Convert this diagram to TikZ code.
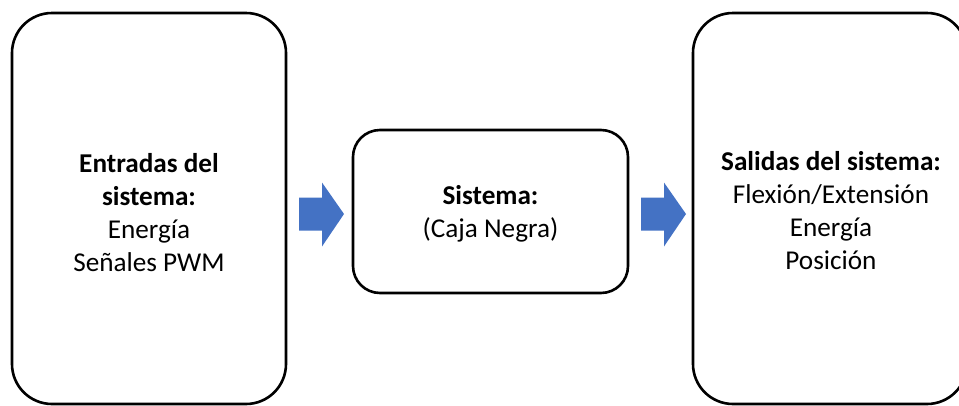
\documentclass[tikz,border=0pt]{standalone}
\usepackage{fontspec}
\setmainfont{Carlito}
\definecolor{arrowblue}{HTML}{4472C4}
\begin{document}
\begin{tikzpicture}[x=1pt,y=-1pt,
  panel/.style={draw=black, line width=2.6pt, rounded corners=#1, inner sep=0pt},
  panel/.default=40pt,
  label/.style={align=center, inner sep=0pt, font=\fontsize{27.2}{33}\selectfont},
  flow/.style={fill=arrowblue, draw=none}]
\useasboundingbox (0,0) rectangle (959,405);
\clip (0,0) rectangle (959,405);

% the three blocks
\node[panel, minimum width=274pt, minimum height=391pt] (inputs) at (149,208.5) {};
\node[panel=27pt, minimum width=275pt, minimum height=163pt] (system) at (490.5,211.5) {};
\node[panel, minimum width=274pt, minimum height=391pt] (outputs) at (830,208.5) {};

% block texts
\node[label] (inputstext) at (149,213) {\textbf{Entradas del}\\\textbf{sistema:}\\Energía\\Señales PWM};
\node[label] (systemtext) at (490.5,214) {\textbf{Sistema:}\\(Caja Negra)};
\node[label] (outputstext) at (831,211) {\textbf{Salidas del sistema:}\\Flexión/Extensión\\Energía\\Posición};

% block arrows between the blocks
\coordinate (a1) at (299,214);
\coordinate (a2) at (641,214);
\foreach \p in {a1,a2}{
  \fill[flow] (\p) ++(0,-16.5) -- ++(23,0) -- ++(0,-15) -- ++(22,31.5)
    -- ++(-22,32.5) -- ++(0,-16) -- ++(-23,0) -- cycle;
}
\end{tikzpicture}
\end{document}
